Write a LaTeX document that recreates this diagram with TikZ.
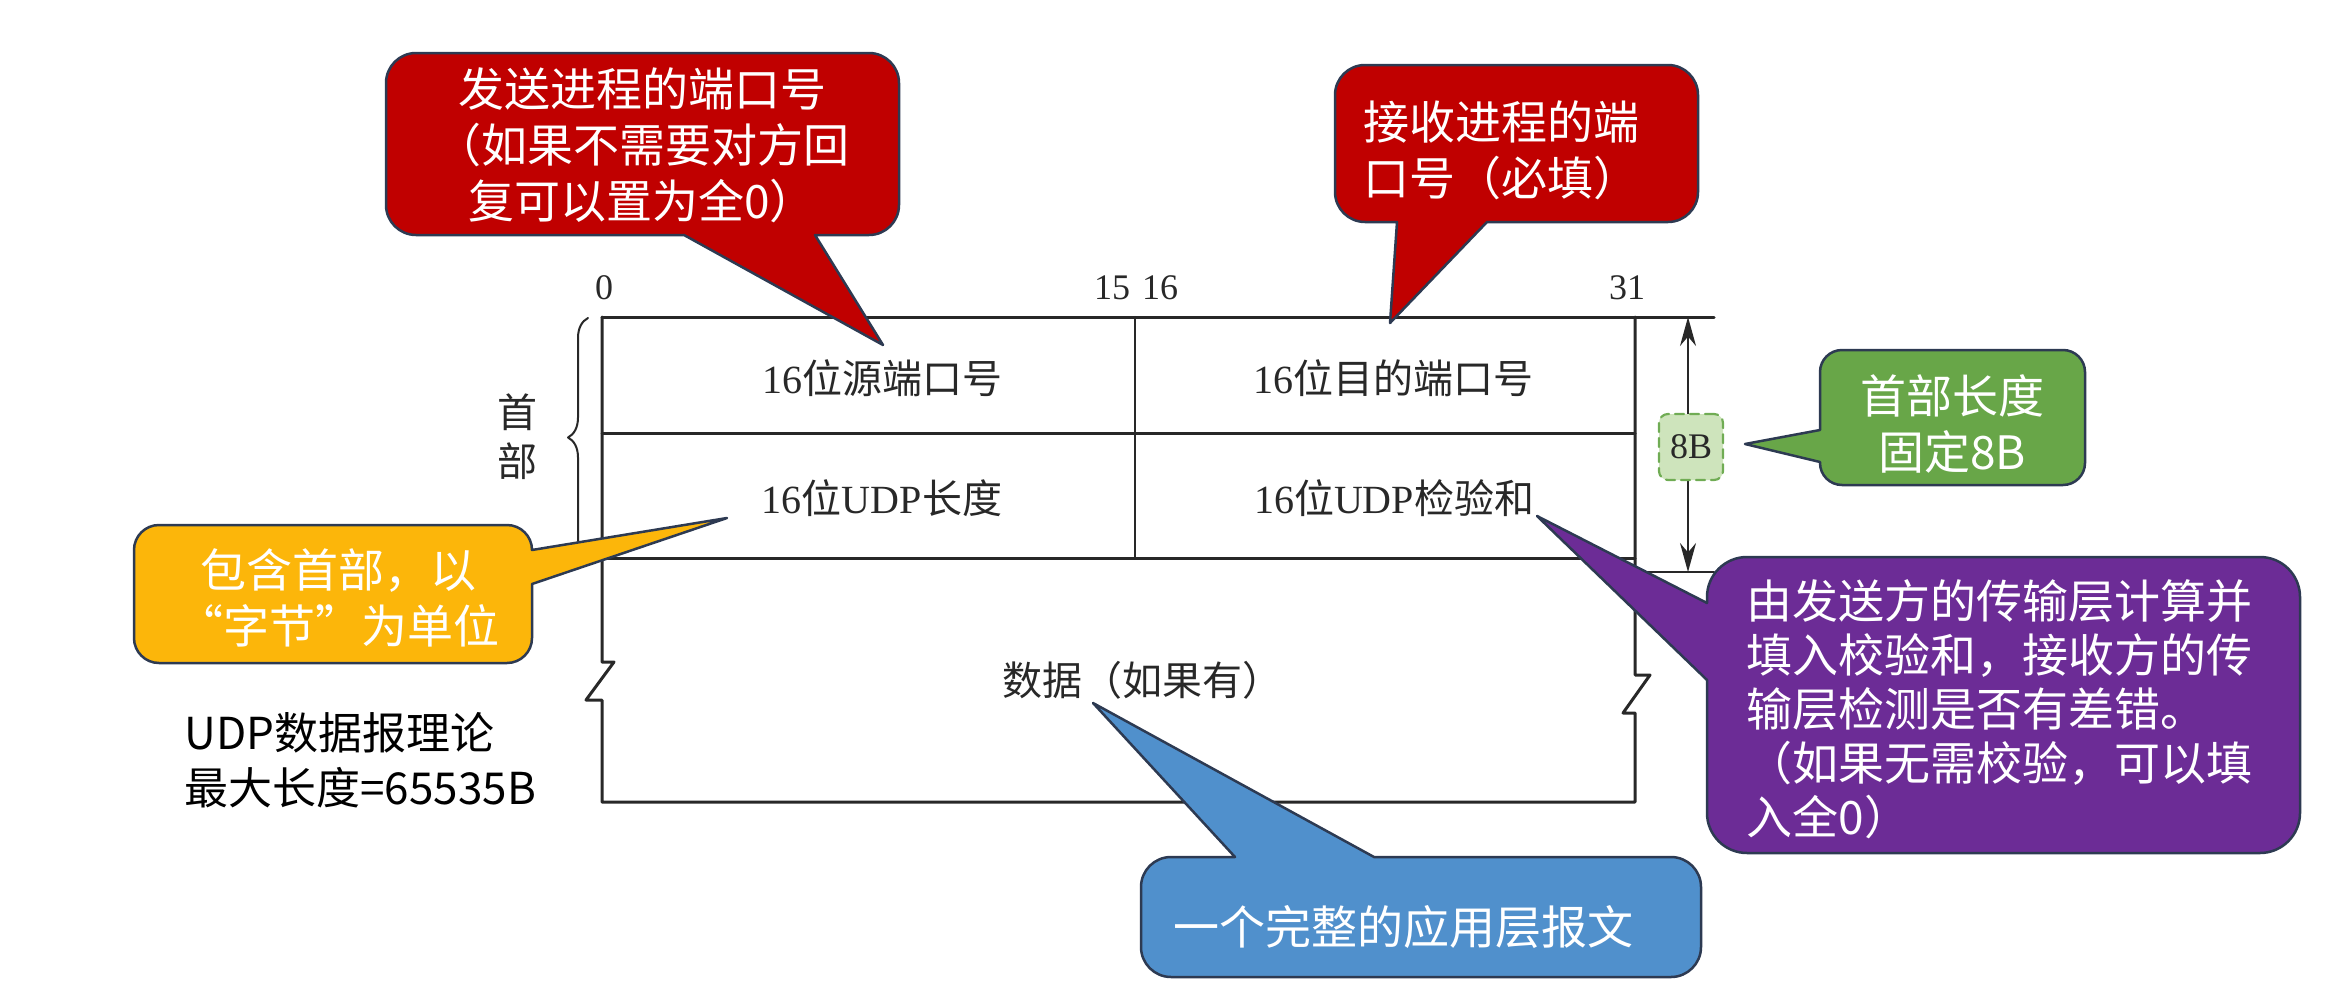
\documentclass[tikz,border=0pt]{standalone}
\usepackage{fontspec}
\setmainfont{Liberation Serif}
\newfontfamily\cjk{Noto Sans CJK SC}
\usetikzlibrary{arrows.meta,decorations.pathreplacing}

\definecolor{balloonEdge}{RGB}{45,58,82}
\definecolor{balloonRed}{RGB}{192,0,0}
\definecolor{balloonGreen}{RGB}{104,166,72}
\definecolor{balloonOrange}{RGB}{252,182,10}
\definecolor{balloonPurple}{RGB}{108,44,150}
\definecolor{balloonBlue}{RGB}{80,144,204}
\definecolor{eightFill}{RGB}{206,228,188}
\definecolor{eightEdge}{RGB}{112,172,84}
\definecolor{frameInk}{RGB}{40,40,40}

\begin{document}
\begin{tikzpicture}[x=1pt, y=-1pt, line width=3pt, line cap=round, line join=round,
  balloon/.style={draw=balloonEdge, line width=2.5pt, rounded corners=30pt},
  balloontext/.style={text=white, inner sep=0pt, font=\cjk\fontsize{46}{56}\selectfont},
  celltext/.style={inner sep=0pt, text=frameInk, font=\fontsize{40}{48}\selectfont},
  bitnum/.style={inner sep=0pt, text=frameInk, font=\fontsize{36}{40}\selectfont}]

  %% ════ 报文格式框 ════
  \draw[frameInk] (602,317) -- (1714,317);
  \draw[frameInk] (602,317) -- (602,662) -- (614,662) -- (586,700) -- (602,700)
        -- (602,802) -- (1635,802) -- (1635,713) -- (1623,713) -- (1650,675)
        -- (1635,675) -- (1635,317);
  \draw[frameInk] (602,433) -- (1635,433);
  \draw[frameInk] (602,558) -- (1635,558);
  \draw[frameInk, line width=2.2pt] (1135,317) -- (1135,558);
  \draw[frameInk, line width=2.4pt] (1635,572) -- (1714,572);

  %% ════ 首部大括号 ════
  \draw[frameInk, line width=2pt, decorate, decoration={brace, amplitude=20pt}]
        (588,557) -- (588,318);
  \node[inner sep=0pt, align=center, text=frameInk, font=\cjk\fontsize{40}{49}\selectfont]
        (hdrLbl) at (517,437) {首\\部};

  %% ════ 位序号 ════
  \node[bitnum] (bit0)  at (604,288)  {0};
  \node[bitnum] (bit15) at (1112,288) {15};
  \node[bitnum] (bit16) at (1160,288) {16};
  \node[bitnum] (bit31) at (1627,288) {31};

  %% ════ 字段 ════
  \node[celltext] (srcPort) at (882,378)  {16{\cjk 位源端口号}};
  \node[celltext] (dstPort) at (1393,378) {16{\cjk 位目的端口号}};
  \node[celltext] (udpLen)  at (882,498)  {16{\cjk 位}UDP{\cjk 长度}};
  \node[celltext] (udpSum)  at (1394,498) {16{\cjk 位}UDP{\cjk 检验和}};
  \node[celltext] (payload) at (1142,680) {\cjk 数据（如果有）};

  %% ════ 首部长度箭头 ════
  \coordinate (lenTop) at (1688,317);
  \coordinate (lenBot) at (1688,572);
  \draw[frameInk, line width=2.2pt, {Stealth[length=29pt,width=16pt]}-{Stealth[length=29pt,width=16pt]}]
        (lenTop) -- (lenBot);
  \node[draw=eightEdge, dash pattern=on 9pt off 6pt, fill=eightFill, rounded corners=9pt,
        line width=2.2pt, minimum width=64pt, minimum height=66pt, inner sep=0pt,
        text=frameInk, font=\fontsize{36}{40}\selectfont] (hdrLen) at (1691,447) {8B};

  %% ════ 气泡框（进入尖角的三段用 sharp corners）════
  \fill[balloonRed, balloon] (386,53) -- (899,53) -- (899,235)
        [sharp corners] -- (815,235) -- (883,345) -- (684,235) [rounded corners=30pt] -- (386,235) -- cycle;
  \fill[balloonRed, balloon] (1335,65) -- (1698,65) -- (1698,222)
        [sharp corners] -- (1487,222) -- (1390,323) -- (1397,222) [rounded corners=30pt] -- (1335,222) -- cycle;
  \fill[balloonGreen, balloon, rounded corners=22pt] (1820,350) -- (2085,350) -- (2085,485) -- (1820,485)
        [sharp corners] -- (1820,462) -- (1745,444) -- (1820,430) [rounded corners=22pt] -- cycle;
  \fill[balloonOrange, balloon, rounded corners=25pt] (134,525) -- (532,525)
        [sharp corners] -- (532,550) -- (727,518) -- (532,584) [rounded corners=25pt] -- (532,663) -- (134,663) -- cycle;
  \fill[balloonPurple, balloon, rounded corners=40pt] (1707,557) -- (2300,557) -- (2300,853) -- (1707,853)
        [sharp corners] -- (1707,680) -- (1537,516) -- (1707,603) [rounded corners=40pt] -- cycle;
  \fill[balloonBlue, balloon] (1701,857) -- (1701,977) -- (1141,977) -- (1141,857)
        [sharp corners] -- (1235,857) -- (1093,703) -- (1374,857) [rounded corners=30pt] -- cycle;

  %% ════ 气泡文字 ════
  \node[balloontext, align=center] (srcNote) at (642,145) {发送进程的端口号\\（如果不需要对方回\\复可以置为全0）};
  \node[balloontext, align=left, anchor=west] (dstNote) at (1362,150) {接收进程的端\\口号（必填）};
  \node[balloontext, align=center] (lenNote) at (1952,424) {首部长度\\固定8B};
  \node[balloontext, align=center] (byteNote) at (338,598) {包含首部，以\\“字节”为单位};
  \node[balloontext, align=left, anchor=west, font=\cjk\fontsize{46}{54}\selectfont]
        (sumNote) at (1745,709) {由发送方的传输层计算并\\填入校验和，接收方的传\\输层检测是否有差错。\\（如果无需校验，可以填\\入全0）};
  \node[balloontext] (appNote) at (1403,927) {一个完整的应用层报文};

  %% ════ 说明文字 ════
  \node[inner sep=0pt, anchor=west, align=left, font=\cjk\fontsize{44}{55}\selectfont]
        (maxLen) at (183,760) {UDP数据报理论\\最大长度=65535B};

  \pgfresetboundingbox
  \path[use as bounding box] (0,0) rectangle (2348,1001);
\end{tikzpicture}
\end{document}
